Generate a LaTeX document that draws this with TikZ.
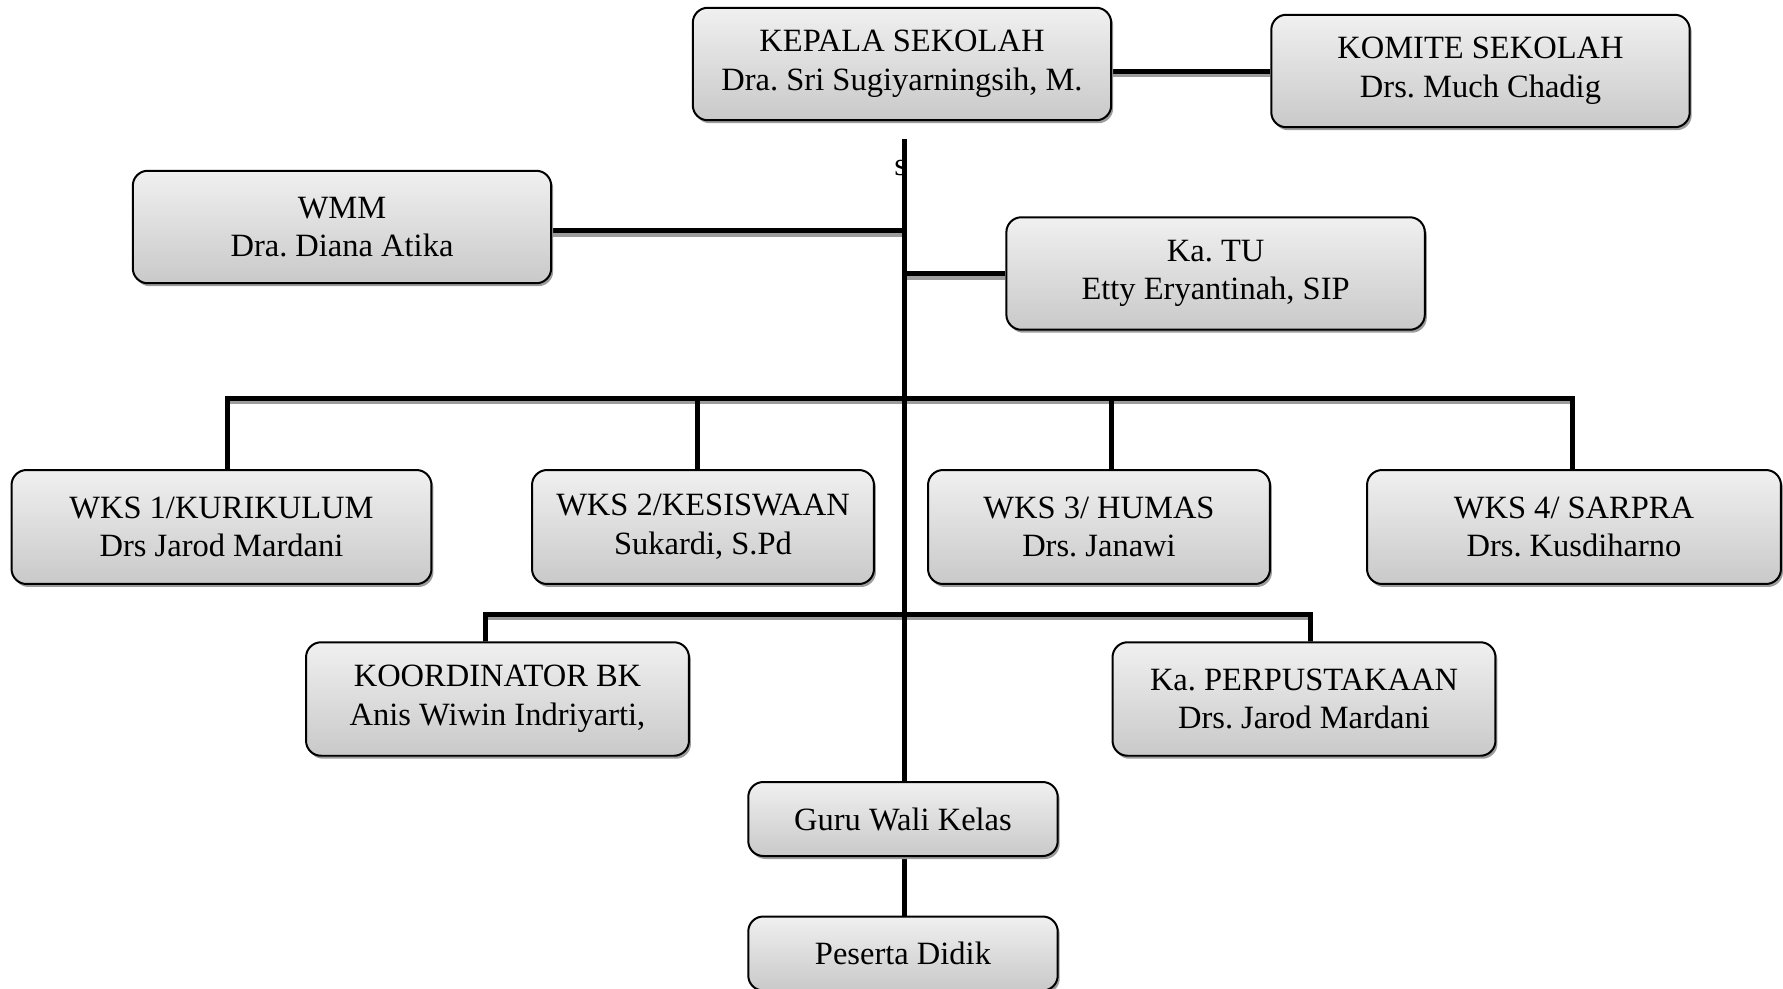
\documentclass[tikz,border=0pt]{standalone}
\usepackage{fontspec}
\setmainfont{Liberation Serif}
\usetikzlibrary{shadows,backgrounds,calc}
\definecolor{boxtop}{HTML}{F0F0F0}
\definecolor{boxbot}{HTML}{C9C9C9}
\definecolor{shade}{HTML}{9C9C9C}
\newcommand\orglinks[1]{%
  \draw[#1] (kepala.east |- komite.west) -- (komite.west);
  \draw[#1] (top) -- (guru.north -| top);
  \draw[#1] ([yshift=-0.07cm]wmm.east) -- ([yshift=-0.07cm]wmm.east -| top);
  \draw[#1] (katu.west) -- (katu.west -| top);
  \draw[#1] ([xshift=0.12cm]wks1.north) |- (hb) -| ([xshift=-0.03cm]wks4.north);
  \draw[#1] ([xshift=-0.12cm]wks2.north) -- ([xshift=-0.12cm]wks2.north |- hb);
  \draw[#1] ([xshift=0.24cm]wks3.north) -- ([xshift=0.24cm]wks3.north |- hb);
  \draw[#1] ([xshift=-0.24cm]koord.north) |- (lb) -| ([xshift=0.12cm]perpus.north);
  \draw[#1] (guru.south -| top) -- (peserta.north -| top);
}
\begin{document}
\frenchspacing
\begin{tikzpicture}[x=0.02cm,y=-0.02cm,
  box/.style={draw=black, line width=0.04cm, rounded corners=0.3cm,
    top color=boxtop, bottom color=boxbot, align=center, inner sep=0pt,
    font=\fontsize{18.5}{22}\selectfont,
    drop shadow={shadow xshift=0.04cm, shadow yshift=-0.06cm, fill=shade, opacity=1}},
  bigbox/.style={box, minimum width=8.37cm, minimum height=2.25cm},
  midbox/.style={box, minimum width=6.84cm, minimum height=2.28cm},
  lowbox/.style={box, minimum width=7.66cm, minimum height=2.27cm},
  smallbox/.style={box, minimum width=6.19cm, minimum height=1.48cm},
  conn/.style={line width=0.1cm, draw=black},
  connshadow/.style={line width=0.1cm, draw=shade, transform canvas={yshift=-0.07cm}}]
\useasboundingbox (0,0) rectangle (1783,988);

\node[bigbox] (kepala) at (902,64) {KEPALA SEKOLAH\\Dra. Sri Sugiyarningsih, M.};
\node[bigbox] (komite) at (1480.5,71) {KOMITE SEKOLAH\\Drs. Much Chadig};
\node[bigbox] (wmm) at (342,227) {WMM\\Dra. Diana Atika};
\node[bigbox] (katu) at (1215.6,273.5) {Ka. TU\\Etty Eryantinah, SIP};

\node[box, minimum width=8.4cm, minimum height=2.28cm] (wks1) at (221.5,527) {WKS 1/KURIKULUM\\Drs Jarod Mardani};
\node[midbox] (wks2) at (703,527) {WKS 2/KESISWAAN\\Sukardi, S.Pd};
\node[midbox] (wks3) at (1099,527) {WKS 3/ HUMAS\\Drs. Janawi};
\node[box, minimum width=8.28cm, minimum height=2.28cm] (wks4) at (1574,527) {WKS 4/ SARPRA\\Drs. Kusdiharno};

\node[lowbox] (koord) at (497.5,699) {KOORDINATOR BK\\Anis Wiwin Indriyarti,};
\node[lowbox] (perpus) at (1304,699) {Ka. PERPUSTAKAAN\\Drs. Jarod Mardani};

\node[smallbox] (guru) at (903,819) {Guru Wali Kelas};
\node[smallbox] (peserta) at (903,953.5) {Peserta Didik};

\coordinate (top) at (904.5,139);
\coordinate (hb) at (904.5,398);
\coordinate (lb) at (904.5,614);

\begin{scope}[on background layer]
  \node[anchor=base west, inner sep=0pt, font=\fontsize{18.5}{22}\selectfont] (s) at (894,175) {s};
  \orglinks{connshadow}
  \orglinks{conn}
\end{scope}
\end{tikzpicture}
\end{document}
